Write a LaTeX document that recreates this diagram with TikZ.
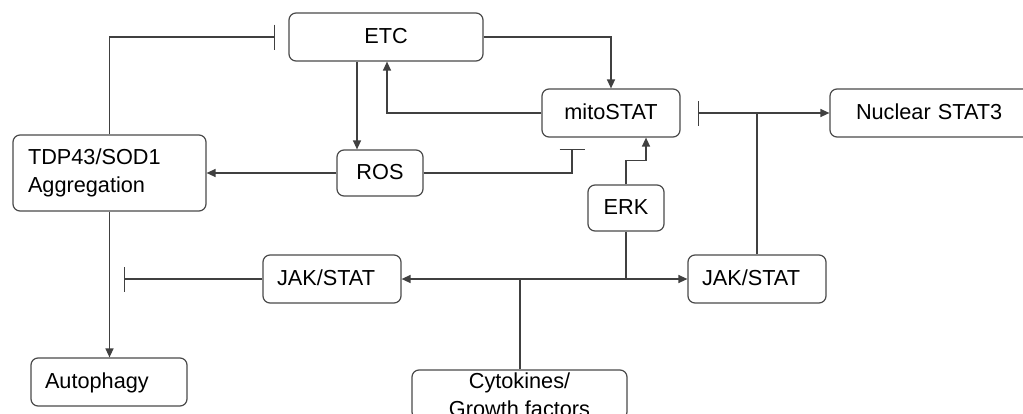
\documentclass[tikz,border=0pt]{standalone}
\usepackage{fontspec}
\setmainfont{Liberation Sans}
\usetikzlibrary{arrows.meta}
\definecolor{linec}{HTML}{404040}
\definecolor{boxc}{HTML}{4A4A4A}
\tikzset{
  box/.style={draw=boxc, line width=1.2pt, rounded corners=7pt, inner sep=0pt, fill=white,
              font=\fontsize{21.7}{27.5}\selectfont, text=black},
  one/.style={text height=14pt, text depth=1.4pt},
  lbox/.style={box, one, align=left},
  arr/.style={draw=linec, line width=1.3pt, -{Triangle[length=9pt,width=8pt]}},
  inh/.style={draw=linec, line width=1.3pt, -{Bar[width=25pt]}},
  ln/.style={draw=linec, line width=1.3pt},
  thk/.style={draw=linec, line width=2pt},
}
\begin{document}
\begin{tikzpicture}[x=1pt,y=1pt]
\clip (0,0) rectangle (1023,-413);
\fill[white] (0,0) rectangle (1023,-413);
% nodes
\node[box, one, minimum width=194pt, minimum height=48pt] (etc) at (386,-37) {ETC};
\node[box, one, minimum width=138pt, minimum height=48pt] (mito) at (611,-113) {mitoSTAT};
\node[lbox, minimum width=205pt, minimum height=48pt, text width=153pt] (nuc) at (932.5,-113) {Nuclear STAT3};
\node[box, align=left, minimum width=193pt, minimum height=76pt, text width=163pt] (tdp) at (109.5,-173) {TDP43/SOD1\\Aggregation};
\node[box, one, minimum width=86pt, minimum height=46pt] (ros) at (380,-173) {ROS};
\node[box, one, minimum width=76pt, minimum height=46pt] (erk) at (626,-208) {ERK};
\node[lbox, minimum width=138pt, minimum height=48pt, text width=110pt] (jak1) at (332,-279) {JAK/STAT};
\node[lbox, minimum width=138pt, minimum height=48pt, text width=110pt] (jak2) at (757,-279) {JAK/STAT};
\node[lbox, minimum width=156pt, minimum height=48pt, text width=128pt] (auto) at (109,-382) {Autophagy};
\node[box, align=center, minimum width=215pt, minimum height=49pt] (cyt) at (519.5,-394.5) {Cytokines/\\Growth factors};
% connectors
\draw[inh] (tdp.north) |- ([xshift=-13pt]etc.west);
\draw[arr] ([xshift=-29pt]etc.south) -- ([xshift=-29pt]etc.south |- ros.north);
\draw[arr] (etc.east) -| (mito.north);
\draw[arr] (mito.west) -| ([xshift=1pt]etc.south);
\draw[arr] (ros.west) -- (tdp.east);
\draw[inh] (ros.east) -| ([xshift=-39pt,yshift=-11pt]mito.south);
\draw[arr] (erk.north) -- ++(0,24) -| ([xshift=35pt]mito.south);
\coordinate (j) at (jak2.north |- nuc.west);
\draw[thk] (jak2.north) -- (j);
\draw[inh] (j) -- ([xshift=17pt]mito.east);
\draw[arr] (j) -- (nuc.west);
\coordinate (h) at (cyt.north |- jak1.east);
\draw[thk] (cyt.north) -- (h);
\draw[arr] (h) -- (jak1.east);
\draw[arr] (h) -- (jak2.west);
\draw[ln] (erk.south) -- (erk.south |- h);
\draw[arr] (tdp.south) -- (tdp.south |- auto.north);
\draw[inh] (jak1.west) -- ([xshift=14pt]tdp.south |- jak1.west);
\end{tikzpicture}
\end{document}
